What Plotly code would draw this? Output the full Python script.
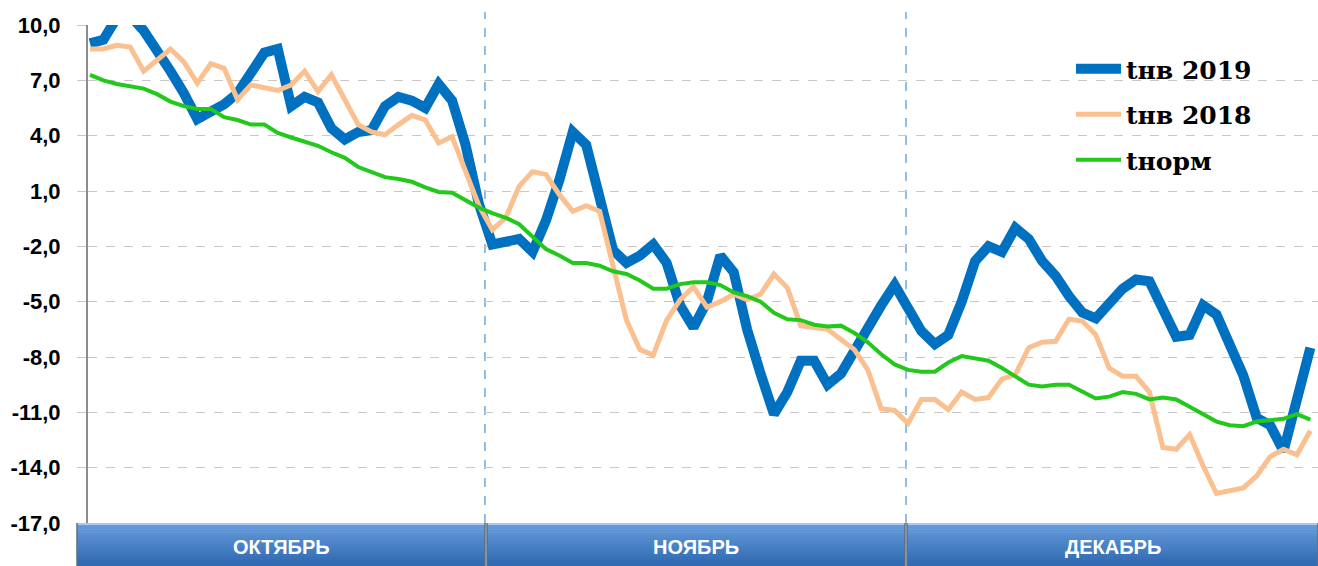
import plotly.graph_objects as go

# ---------------- data ----------------
days = list(range(92))  # 1 Oct .. 31 Dec

t2019 = [9.0, 9.2, 10.4, 10.5, 9.7, 8.7, 7.5, 6.3, 4.9, 5.3,
         5.7, 6.3, 7.3, 8.5, 8.7, 5.6, 6.1, 5.8, 4.4, 3.8,
         4.2, 4.3, 5.6, 6.1, 5.9, 5.5, 6.8, 5.9, 3.5, 0.3,
         -1.9, -1.8, -1.6, -2.3, -0.6, 1.6, 4.2, 3.5, 0.8, -2.2,
         -2.9, -2.5, -1.9, -2.9, -5.2, -6.4, -5.0, -2.5, -3.4, -6.5,
         -8.9, -11.1, -9.9, -8.2, -8.2, -9.5, -8.9, -7.6, -6.4, -5.2,
         -4.1, -5.3, -6.6, -7.3, -6.8, -5.0, -2.8, -2.0, -2.3, -1.0,
         -1.6, -2.8, -3.6, -4.7, -5.6, -5.9, -5.1, -4.3, -3.8, -3.9,
         -5.4, -6.9, -6.8, -5.2, -5.7, -7.2, -9.0, -11.3, -11.7, -13.1,
         -10.3, -7.5]

t2018 = [8.7, 8.7, 8.9, 8.8, 7.5, 8.1, 8.7, 8.0, 6.85, 7.9,
         7.65, 5.95, 6.75, 6.6, 6.45, 6.75, 7.5, 6.4, 7.3, 5.95,
         4.6, 4.2, 4.05, 4.6, 5.1, 4.85, 3.6, 3.95, 2.0, 0.2,
         -1.1, -0.45, 1.25, 2.05, 1.9, 0.8, -0.1, 0.2, -0.1, -3.1,
         -6.0, -7.6, -7.9, -6.0, -4.9, -4.2, -5.3, -5.0, -4.6, -4.9,
         -4.6, -3.5, -4.25, -6.3, -6.4, -6.5, -7.05, -7.6, -8.7, -10.8,
         -10.9, -11.6, -10.3, -10.3, -10.85, -9.9, -10.3, -10.2, -9.2, -8.95,
         -7.5, -7.2, -7.15, -5.95, -6.05, -6.8, -8.6, -9.05, -9.05, -9.9,
         -12.9, -13.0, -12.2, -13.9, -15.4, -15.25, -15.1, -14.45, -13.4, -13.0,
         -13.3, -12.0]

tnorm = [7.3, 7.0, 6.8, 6.7, 6.55, 6.25, 5.85, 5.6, 5.45, 5.45,
         5.0, 4.85, 4.6, 4.6, 4.15, 3.9, 3.7, 3.45, 3.1, 2.8,
         2.3, 2.05, 1.75, 1.65, 1.5, 1.2, 0.95, 0.9, 0.5, 0.1,
         -0.2, -0.45, -0.8, -1.5, -2.15, -2.5, -2.9, -2.9, -3.05, -3.35,
         -3.5, -3.85, -4.3, -4.3, -4.05, -3.95, -3.95, -4.1, -4.5, -4.7,
         -5.0, -5.6, -5.95, -6.0, -6.25, -6.35, -6.3, -6.7, -7.2, -7.85,
         -8.4, -8.7, -8.8, -8.8, -8.3, -7.95, -8.1, -8.2, -8.6, -9.05,
         -9.5, -9.6, -9.5, -9.5, -9.9, -10.25, -10.15, -9.9, -10.0, -10.3,
         -10.2, -10.3, -10.7, -11.1, -11.5, -11.7, -11.75, -11.5, -11.4, -11.35,
         -11.1, -11.4]

y_ticks = [10, 7, 4, 1, -2, -5, -8, -11, -14, -17]
y_tick_text = ["10,0", "7,0", "4,0", "1,0", "-2,0", "-5,0", "-8,0", "-11,0", "-14,0", "-17,0"]
months = ["ОКТЯБРЬ", "НОЯБРЬ", "ДЕКАБРЬ"]
names = ["tнв 2019", "tнв 2018", "tнорм"]

# ---------------- layout constants ----------------
W, H = 1318, 566
ML, MR, MT, MB = 88, 0, 25, 43
PW, PH = W - ML - MR, H - MT - MB


def px_to_paper_x(px):
    return (px - ML) / PW


def py_to_paper_y(py):
    return (H - MB - py) / PH


fig = go.Figure()
fig.add_trace(go.Scatter(x=days, y=t2019, mode="lines", name=names[0],
                         line=dict(color="#0070c0", width=10), legendgroup="a"))
fig.add_trace(go.Scatter(x=days, y=t2018, mode="lines", name=names[1],
                         line=dict(color="#fac090", width=5), legendgroup="b"))
fig.add_trace(go.Scatter(x=days, y=tnorm, mode="lines", name=names[2],
                         line=dict(color="#22c81a", width=4), legendgroup="c"))

shapes = []
# month dividers (dashed light blue)
for xd in [29.45, 60.85]:
    shapes.append(dict(type="line", xref="x", yref="paper", x0=xd, x1=xd,
                       y0=0, y1=py_to_paper_y(12),
                       line=dict(color="#5b9bd5", width=1.3, dash="dash"), layer="below"))

# month buttons with gradient
bands = [(77, 485), (487, 905), (907, 1318)]
top, bot = H - MB, H
c_top = (0x64, 0x9c, 0xdc)
c_bot = (0x32, 0x6a, 0xb2)
nstripes = 14
for (a, b) in bands:
    x0, x1 = px_to_paper_x(a), px_to_paper_x(b)
    for k in range(nstripes):
        f = k / (nstripes - 1)
        col = tuple(int(c_top[j] + (c_bot[j] - c_top[j]) * f) for j in range(3))
        ya = top + (bot - top) * k / nstripes
        yb = top + (bot - top) * (k + 1) / nstripes + 0.6
        shapes.append(dict(type="rect", xref="paper", yref="paper",
                           x0=x0, x1=x1, y0=py_to_paper_y(yb), y1=py_to_paper_y(ya),
                           fillcolor="rgb(%d,%d,%d)" % col, line=dict(width=0), layer="above"))
    # top highlight
    shapes.append(dict(type="rect", xref="paper", yref="paper", x0=x0, x1=x1,
                       y0=py_to_paper_y(top + 2), y1=py_to_paper_y(top),
                       fillcolor="#a8caf0", line=dict(width=0), layer="above"))
    # side edges
    for ex in (a, b):
        shapes.append(dict(type="line", xref="paper", yref="paper",
                           x0=px_to_paper_x(ex), x1=px_to_paper_x(ex),
                           y0=py_to_paper_y(bot), y1=py_to_paper_y(top),
                           line=dict(color="#5e6e80", width=1.5), layer="above"))

annotations = []
for (a, b), m in zip(bands, months):
    annotations.append(dict(x=px_to_paper_x((a + b) / 2), y=py_to_paper_y(547),
                            xref="paper", yref="paper", text=m, showarrow=False,
                            font=dict(family="Liberation Sans", size=20, color="white", weight="bold"),
                            xanchor="center", yanchor="middle"))

fig.update_layout(
    width=W, height=H,
    margin=dict(l=ML, r=MR, t=MT, b=MB, pad=0, autoexpand=False),
    paper_bgcolor="white", plot_bgcolor="white",
    showlegend=True,
    legend=dict(x=px_to_paper_x(1071), y=py_to_paper_y(46), xanchor="left", yanchor="top",
                bgcolor="rgba(0,0,0,0)", tracegroupgap=10, itemwidth=45,
                font=dict(family="DejaVu Serif", size=25, color="black", weight="bold")),
    xaxis=dict(range=[-0.15, 91.57], visible=False, showgrid=False, zeroline=False,
               automargin=False),
    yaxis=dict(range=[-17, 10], tickvals=y_ticks, ticktext=y_tick_text, automargin=False,
               showgrid=True, gridcolor="#c8c8c8", griddash="dash", gridwidth=1.2,
               zeroline=False, showline=True, linecolor="#8c8c8c", linewidth=2,
               ticks="outside", ticklen=9, tickcolor="#c8c8c8", tickwidth=1.2,
               ticklabelstandoff=12,
               tickfont=dict(family="Liberation Sans", size=22, color="black", weight="bold")),
    shapes=shapes, annotations=annotations,
)

fig.write_html("out.html",
               config={"displayModeBar": False},
               post_script="document.body.style.margin='0px';document.body.style.overflow='hidden';")
